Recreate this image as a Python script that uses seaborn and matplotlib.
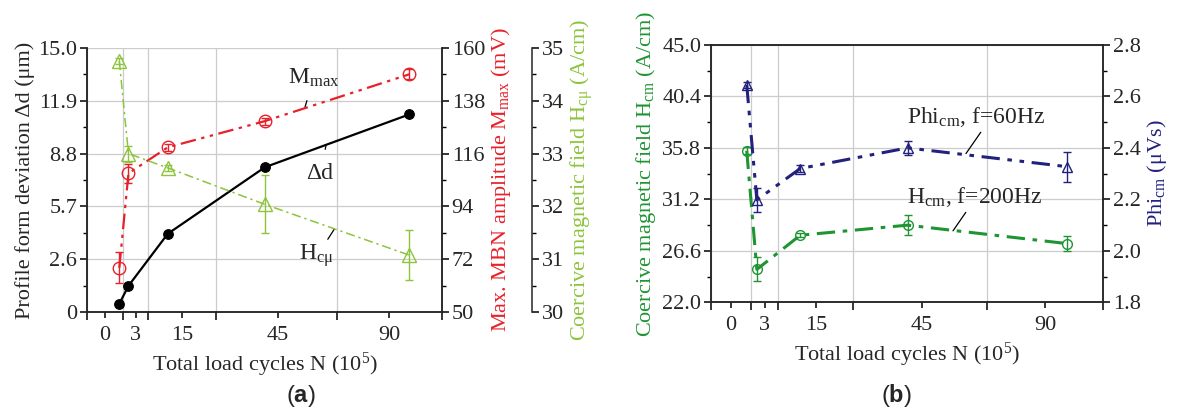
import numpy as np
import matplotlib
matplotlib.use("Agg")
import matplotlib.pyplot as plt
import seaborn as sns
from matplotlib.ticker import FixedLocator, MultipleLocator, AutoMinorLocator, NullFormatter

# total load cycles N (10^5), same for every series
cycles = [1.4, 2.3, 11.3, 41.0, 98.0]

# panel (a)
delta_d = [0.0, 1.05, 4.1, 8.0, 11.1]
m_max = [68.5, 107.8, 118.6, 129.5, 149.0]
m_max_err = [6.5, 4.0, 1.5, 1.5, 2.0]
h_cu = [34.75, 33.0, 32.73, 32.04, 31.08]
h_cu_err = [0.05, 0.15, 0.05, 0.55, 0.47]

# panel (b)
h_cm = [35.55, 24.95, 28.0, 28.9, 27.25]
h_cm_err = [0.3, 1.07, 0.2, 0.9, 0.67]
phi_cm = [2.645, 2.198, 2.32, 2.40, 2.327]
phi_cm_err = [0.012, 0.046, 0.015, 0.026, 0.058]

# x axis of the paper is piecewise: labelled ticks sit between gridded ticks
x_labels = [0, 3, 15, 45, 90]
x_bounds = [-1.8, 1.76, 6.2, 25.6, 68.9, 111.0]
scale_n = [-1.8, 0, 3, 15, 45, 90, 111.0]
scale_pos = [0, 0.051, 0.137, 0.268, 0.537, 0.852, 1.0]

dd_ticks = [-0.5, 2.6, 5.7, 8.8, 11.9, 15.0]
dd_ticklabels = ["0", "2.6", "5.7", "8.8", "11.9", "15.0"]
mmax_ticks = [50, 72, 94, 116, 138, 160]
hcm_ticks = [22.0, 26.6, 31.2, 35.8, 40.4, 45.0]

RED = "#e8202a"
LGREEN = "#8cc43c"
GREEN = "#1f9433"
NAVY = "#22227e"
GRID = "#cccccc"
FS = 16
FS_NOTE = 17

sns.set_theme(style="ticks")
plt.rcParams["font.family"] = ["Liberation Serif", "DejaVu Serif"]
plt.rcParams["mathtext.fontset"] = "custom"
plt.rcParams["mathtext.rm"] = "Liberation Serif"
plt.rcParams["mathtext.it"] = "Liberation Serif:italic"
plt.rcParams["mathtext.bf"] = "Liberation Sans:bold"
plt.rcParams["font.size"] = FS
plt.rcParams["axes.linewidth"] = 1.1


def fwd(x):
    return np.interp(x, scale_n, scale_pos)


def inv(p):
    return np.interp(p, scale_pos, scale_n)


def style_xaxis(ax):
    ax.set_xscale("function", functions=(fwd, inv))
    ax.set_xlim(scale_n[0], scale_n[-1])
    ax.xaxis.set_major_locator(FixedLocator(x_bounds))
    ax.xaxis.set_major_formatter(NullFormatter())
    ax.set_xticks(x_labels, [str(v) for v in x_labels], minor=True)
    ax.tick_params(axis="x", which="major", direction="out", length=6, width=1.1, color="black")
    ax.tick_params(axis="x", which="minor", direction="out", length=4, width=1.1,
                   labelsize=FS, color="black", pad=6)
    ax.set_xlabel("Total load cycles N (10$^5$)", fontsize=FS, labelpad=4)


def style_y(ax):
    ax.tick_params(axis="y", which="major", direction="out", length=5, width=1.1,
                   labelsize=FS, color="black", pad=2)
    ax.tick_params(axis="y", which="minor", direction="out", length=3, width=1.0, color="black")


fig = plt.figure(figsize=(11.83, 4.12), dpi=100)

# ---------- panel (a) ----------
ax = fig.add_axes([0.0735, 0.242, 0.3001, 0.642])
ax2 = ax.twinx()
ax3 = ax.twinx()
for a in (ax, ax2, ax3):
    style_xaxis(a)

ax.grid(True, which="major", color=GRID, lw=0.9)
ax.set_axisbelow(True)

sns.lineplot(x=cycles, y=delta_d, ax=ax, color="black", lw=1.6, marker="o",
             markersize=7, markerfacecolor="black", markeredgecolor="black")
ax.set_ylim(-0.5, 15.0)
ax.set_yticks(dd_ticks, dd_ticklabels)
ax.yaxis.set_minor_locator(AutoMinorLocator(2))
style_y(ax)
ax.set_ylabel("Profile form deviation \u0394d (\u03bcm)", fontsize=FS, labelpad=2)

sns.lineplot(x=cycles, y=m_max, ax=ax2, color=RED, lw=1.6,
             linestyle=(0, (7, 2.5, 1.5, 2.5, 1.5, 2.5)), marker="o", markersize=9,
             markerfacecolor="none", markeredgecolor=RED, markeredgewidth=1.0)
ax2.errorbar(cycles, m_max, yerr=m_max_err, fmt="none", ecolor=RED, elinewidth=1.0, capsize=3)
ax2.set_ylim(50, 160)
ax2.set_yticks(mmax_ticks, [str(v) for v in mmax_ticks])
ax2.yaxis.set_minor_locator(AutoMinorLocator(2))
style_y(ax2)
ax2.set_ylabel("Max. MBN amplitude M$_{\\mathrm{max}}$ (mV)", color=RED, fontsize=FS, labelpad=3)

sns.lineplot(x=cycles, y=h_cu, ax=ax3, color=LGREEN, lw=1.1,
             linestyle=(0, (6, 2.5, 1.5, 2.5)), marker="^", markersize=10,
             markerfacecolor="none", markeredgecolor=LGREEN, markeredgewidth=1.0)
ax3.errorbar(cycles, h_cu, yerr=h_cu_err, fmt="none", ecolor=LGREEN, elinewidth=1.0, capsize=3)
ax3.set_ylim(30, 35)
ax3.yaxis.set_major_locator(MultipleLocator(1))
ax3.yaxis.set_minor_locator(MultipleLocator(0.5))
ax3.spines["right"].set_position(("axes", 1.254))
for s in ("left", "top", "bottom"):
    ax3.spines[s].set_visible(False)
ax3.tick_params(axis="x", which="both", bottom=False, labelbottom=False)
style_y(ax3)
ax3.set_ylabel("Coercive magnetic field H$_{\\mathrm{c\u03bc}}$ (A/cm)", color=LGREEN,
               fontsize=FS, labelpad=3)

for a in (ax, ax2):
    a.spines["top"].set_visible(False)
ax2.tick_params(axis="x", which="both", bottom=False, labelbottom=False)

ax.annotate("M$_{\\mathrm{max}}$", xy=(0.614, 0.775), xytext=(0.566, 0.885),
            xycoords="axes fraction", textcoords="axes fraction", fontsize=FS_NOTE,
            va="center", ha="left",
            arrowprops=dict(arrowstyle="-", color="black", lw=0.9, shrinkA=6, shrinkB=0))
ax.annotate("\u0394d", xy=(0.673, 0.628), xytext=(0.656, 0.523),
            xycoords="axes fraction", textcoords="axes fraction", fontsize=FS_NOTE,
            va="center", ha="center",
            arrowprops=dict(arrowstyle="-", color="black", lw=0.9, shrinkA=8, shrinkB=0))
ax.annotate("H$_{\\mathrm{c\u03bc}}$", xy=(0.697, 0.315), xytext=(0.596, 0.213),
            xycoords="axes fraction", textcoords="axes fraction", fontsize=FS_NOTE,
            va="center", ha="left",
            arrowprops=dict(arrowstyle="-", color="black", lw=0.9, shrinkA=0, shrinkB=0,
                            relpos=(0.78, 1.0)))

# ---------- panel (b) ----------
bx = fig.add_axes([0.601, 0.266, 0.3316, 0.625])
bx2 = bx.twinx()
for a in (bx, bx2):
    style_xaxis(a)
bx.grid(True, which="major", color=GRID, lw=0.9)
bx.set_axisbelow(True)

sns.lineplot(x=cycles, y=h_cm, ax=bx, color=GREEN, lw=2.2,
             linestyle=(0, (6, 2.5, 1.5, 2.5)), marker="o", markersize=7,
             markerfacecolor="none", markeredgecolor=GREEN, markeredgewidth=1.0)
bx.errorbar(cycles, h_cm, yerr=h_cm_err, fmt="none", ecolor=GREEN, elinewidth=1.0, capsize=3)
bx.set_ylim(22.0, 45.0)
bx.set_yticks(hcm_ticks, [f"{v:.1f}" for v in hcm_ticks])
bx.yaxis.set_minor_locator(AutoMinorLocator(2))
style_y(bx)
bx.set_ylabel("Coercive magnetic field H$_{\\mathrm{cm}}$ (A/cm)", color=GREEN, fontsize=FS, labelpad=3)

sns.lineplot(x=cycles, y=phi_cm, ax=bx2, color=NAVY, lw=2.2,
             linestyle=(0, (6, 2.5, 1.5, 2.5, 1.5, 2.5)), marker="^", markersize=7,
             markerfacecolor="none", markeredgecolor=NAVY, markeredgewidth=1.0)
bx2.errorbar(cycles, phi_cm, yerr=phi_cm_err, fmt="none", ecolor=NAVY, elinewidth=1.0, capsize=3)
bx2.set_ylim(1.8, 2.8)
bx2.yaxis.set_major_locator(MultipleLocator(0.2))
bx2.yaxis.set_minor_locator(MultipleLocator(0.1))
bx2.yaxis.set_major_formatter(matplotlib.ticker.FormatStrFormatter("%.1f"))
style_y(bx2)
bx2.tick_params(axis="x", which="both", bottom=False, labelbottom=False)
bx2.set_ylabel("Phi$_{\\mathrm{cm}}$ (\u03bcVs)", color=NAVY, fontsize=FS, labelpad=3)

bx.annotate("Phi$_{\\mathrm{cm}}$, f=60Hz", xy=(0.650, 0.578), xytext=(0.500, 0.72),
            xycoords="axes fraction", textcoords="axes fraction", fontsize=FS_NOTE,
            va="center", ha="left",
            arrowprops=dict(arrowstyle="-", color="black", lw=0.9, shrinkA=0, shrinkB=0,
                            relpos=(0.55, 0.0)))
bx.annotate("H$_{\\mathrm{cm}}$, f=200Hz", xy=(0.617, 0.278), xytext=(0.500, 0.409),
            xycoords="axes fraction", textcoords="axes fraction", fontsize=FS_NOTE,
            va="center", ha="left",
            arrowprops=dict(arrowstyle="-", color="black", lw=0.9, shrinkA=0, shrinkB=0,
                            relpos=(0.45, 0.0)))

fig.text(0.254, 0.025, "($\\mathbf{a}$)", family="Liberation Sans", fontsize=17, ha="center")
fig.text(0.758, 0.025, "($\\mathbf{b}$)", family="Liberation Sans", fontsize=17, ha="center")

fig.savefig("out.png", dpi=100)
